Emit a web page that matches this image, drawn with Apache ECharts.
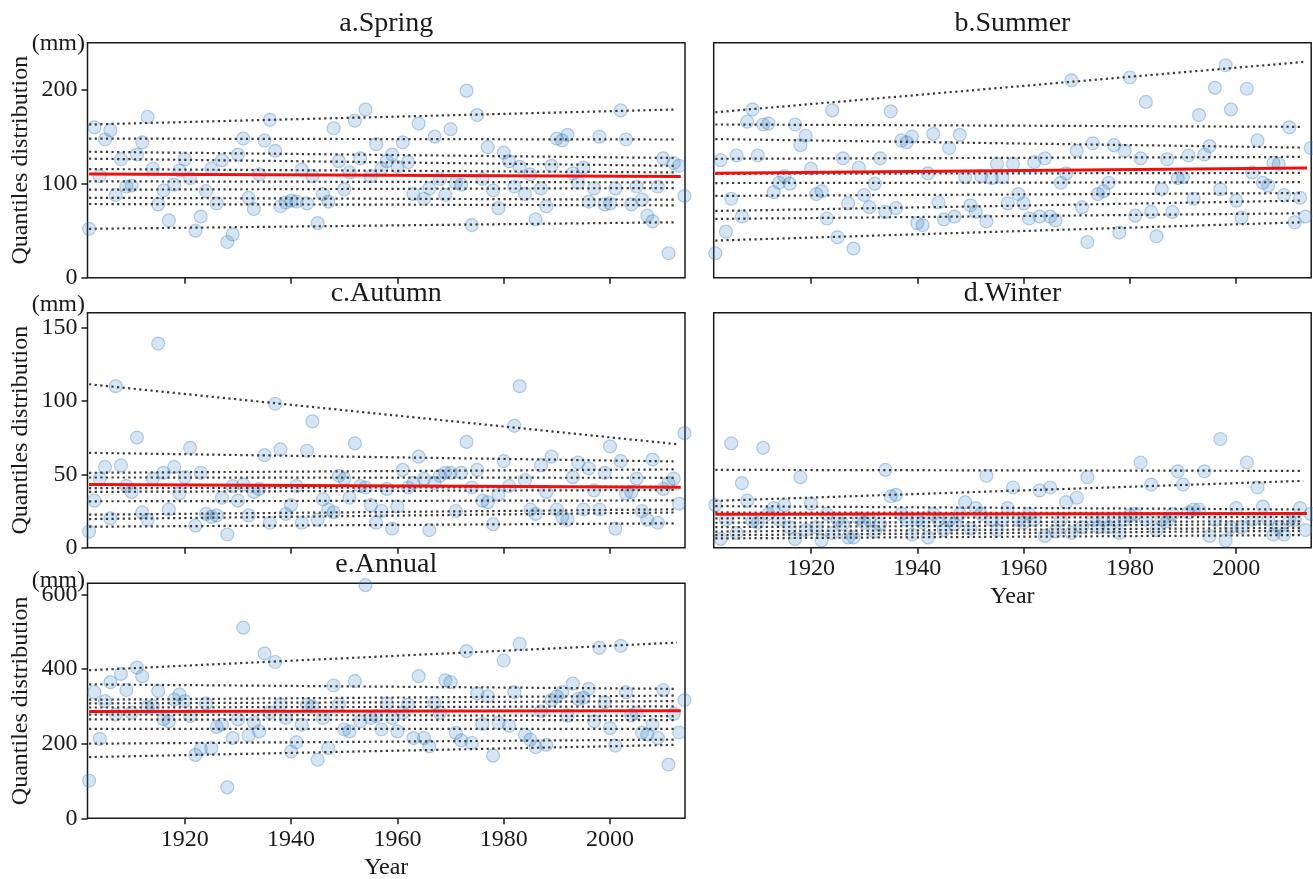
<!DOCTYPE html>
<html>
<head>
<meta charset="utf-8">
<title>Quantiles distribution</title>
<script src="https://cdn.jsdelivr.net/npm/echarts@6/dist/echarts.min.js"></script>
<style>
  html, body { margin: 0; padding: 0; background: #fff; }
  #chart { width: 1313px; height: 879px; }
</style>
</head>
<body>
<div id="chart"></div>
<script>
// Datos (mm), un valor por anio desde 1902
const firstYear = 1902;

const spring = [
  52, 160, 108, 147, 157, 88, 126, 97, 98, 131,
  144, 171, 116, 78, 93, 61, 99, 114, 126, 106,
  50, 65, 92, 116, 79, 125, 38, 46, 131, 148,
  85, 73, 110, 146, 168, 135, 76, 80, 82, 81,
  115, 79, 108, 58, 89, 81, 159, 124, 94, 112,
  167, 127, 179, 108, 142, 116, 124, 131, 118, 144,
  123, 89, 164, 84, 95, 150, 105, 88, 158, 101,
  99, 199, 56, 173, 105, 139, 93, 74, 133, 124,
  97, 118, 89, 110, 62, 95, 76, 119, 148, 146,
  152, 111, 101, 117, 81, 95, 150, 78, 79, 95,
  178, 147, 78, 97, 83, 66, 60, 97, 127, 26,
  122, 119, 87,
];

const summer = [
  26, 125, 49, 84, 130, 65, 166, 179, 130, 163,
  164, 91, 101, 108, 100, 163, 141, 151, 116, 89,
  92, 63, 178, 43, 127, 79, 31, 117, 88, 75,
  100, 127, 70, 177, 74, 146, 144, 150, 58, 56,
  111, 153, 80, 62, 138, 65, 152, 107, 77, 70,
  108, 60, 106, 121, 107, 79, 121, 89, 79, 63,
  123, 65, 127, 65, 61, 101, 111, 210, 135, 75,
  38, 143, 89, 92, 101, 141, 48, 135, 213, 66,
  127, 187, 70, 44, 94, 126, 70, 106, 107, 130,
  84, 173, 131, 140, 202, 94, 226, 179, 82, 64,
  201, 112, 146, 101, 98, 122, 121, 88, 160, 59,
  85, 65, 138,
];

const autumn = [
  11, 32, 47, 55, 20, 110, 56, 42, 38, 75,
  24, 19, 47, 139, 51, 26, 55, 37, 48, 68,
  15, 51, 23, 21, 22, 34, 9, 42, 32, 43,
  22, 38, 40, 63, 17, 98, 67, 23, 29, 42,
  17, 66, 86, 19, 33, 26, 24, 49, 47, 34,
  71, 42, 41, 29, 17, 25, 40, 13, 28, 53,
  41, 44, 62, 47, 12, 44, 49, 51, 51, 25,
  51, 72, 41, 53, 32, 31, 16, 36, 59, 42,
  83, 110, 46, 26, 23, 56, 38, 62, 26, 21,
  19, 48, 58, 26, 54, 39, 26, 51, 69, 13,
  59, 37, 38, 47, 25, 19, 60, 17, 40, 44,
  47, 30, 78,
];

const winter = [
  29, 6, 19, 71, 10, 44, 32, 18, 17, 68,
  23, 27, 19, 29, 14, 6, 48, 12, 30, 14,
  5, 23, 10, 19, 16, 7, 7, 20, 17, 19,
  11, 16, 53, 35, 36, 23, 19, 9, 19, 17,
  7, 23, 19, 12, 19, 16, 23, 31, 13, 27,
  23, 49, 19, 12, 19, 27, 41, 19, 17, 23,
  19, 39, 8, 41, 11, 19, 31, 10, 34, 14,
  48, 19, 14, 19, 14, 19, 10, 19, 22, 23,
  58, 19, 43, 12, 19, 18, 23, 52, 43, 24,
  26, 26, 52, 8, 19, 74, 5, 14, 27, 14,
  58, 19, 41, 28, 19, 9, 14, 9, 19, 19,
  27, 12, 23,
];

const annual = [
  101, 338, 213, 314, 365, 278, 387, 344, 283, 404,
  381, 298, 300, 341, 266, 260, 318, 332, 314, 274,
  170, 186, 308, 188, 245, 251, 83, 215, 265, 511,
  222, 257, 233, 442, 284, 419, 305, 269, 179, 204,
  251, 305, 300, 157, 269, 188, 356, 305, 238, 233,
  368, 260, 625, 269, 274, 238, 308, 269, 233, 283,
  305, 215, 381, 215, 193, 309, 283, 370, 365, 229,
  209, 448, 202, 335, 253, 327, 168, 256, 423, 248,
  338, 468, 224, 211, 191, 287, 197, 317, 327, 338,
  275, 361, 320, 323, 347, 260, 457, 311, 242, 195,
  462, 338, 276, 283, 230, 224, 251, 215, 344, 144,
  280, 230, 317,
];

// Rectas de regresion por cuantiles: valor al inicio y al final
const quantileYears = [1902, 2012.6];
const springQStart = [163, 148, 134, 126.6, 115.6, 102.5, 93.6, 85, 78.4, 52];
const springQEnd = [179, 147, 127.3, 119, 112, 101.4, 95.4, 83, 77, 59];
const summerQStart = [176, 163, 147.5, 126.5, 110.5, 100.7, 87, 71, 62.5, 39.5];
const summerQEnd = [229.5, 160.5, 138.4, 128.5, 111.5, 101.6, 90, 82, 68.5, 59];
const autumnQStart = [111.3, 64.6, 51, 47.8, 40.5, 38, 31.6, 22.5, 19.5, 14.3];
const autumnQEnd = [70.5, 58.7, 53.3, 47.6, 41.5, 39.3, 32.2, 26.1, 24, 16.6];
const winterQStart = [53, 31.9, 28.3, 24, 20, 17, 14, 11, 8.5, 6.3];
const winterQEnd = [52.3, 45.5, 26, 23.5, 21, 18, 16, 13.5, 11.5, 8.6];
const annualQStart = [397, 359, 318, 308, 297, 278, 265, 240, 200, 164];
const annualQEnd = [471, 347, 329, 314, 300, 274, 263, 240, 211, 197];

// Tendencia lineal (linea roja)
const trendYears = [1902, 2013.3];
const springTrend = [110.4, 107.6];
const summerTrend = [111, 116.7];
const autumnTrend = [43, 41.2];
const winterTrend = [22.7, 23.3];
const annualTrend = [286, 288];

// Ejes
const xRange = [1901.7, 2014.1];
const xTicks = [1920, 1940, 1960, 1980, 2000];
const springTicks = [0, 100, 200];
const autumnTicks = [0, 50, 100, 150];
const annualTicks = [0, 200, 400, 600];

const titles = ["a.Spring", "b.Summer", "c.Autumn", "d.Winter", "e.Annual"];
const yLabel = "Quantiles distribution";
const unitLabel = "(mm)";
const xLabel = "Year";

const years = spring.map((_, i) => firstYear + i);

(function () {
  "use strict";

  const FONT = "'Liberation Serif', 'Times New Roman', serif";
  const INK = "#1a1a1a";
  const boxW = 597.5;
  const boxH = 235;

  // Cada panel: posicion, datos y configuracion del eje Y
  const panels = [
    { left: 87.5, top: 42.7, unitDy: 1, values: spring, trend: springTrend, qs: springQStart, qe: springQEnd, yMax: 250, yTicks: springTicks, xLabels: false, leftCol: true },
    { left: 713.7, top: 42.7, values: summer, trend: summerTrend, qs: summerQStart, qe: summerQEnd, yMax: 250, yTicks: null, xLabels: false, leftCol: false },
    { left: 87.5, top: 312.7, unitDy: -8, values: autumn, trend: autumnTrend, qs: autumnQStart, qe: autumnQEnd, yMax: 160, yTicks: autumnTicks, xLabels: false, leftCol: true },
    { left: 713.7, top: 312.7, values: winter, trend: winterTrend, qs: winterQStart, qe: winterQEnd, yMax: 160, yTicks: null, xLabels: true, leftCol: false },
    { left: 87.5, top: 583.3, unitDy: -3, values: annual, trend: annualTrend, qs: annualQStart, qe: annualQEnd, yMax: 630, yTicks: annualTicks, xLabels: true, leftCol: true },
  ];

  const grid = [];
  const xAxis = [];
  const yAxis = [];
  const series = [];
  const graphic = [];

  const labelStyle = { fontFamily: FONT, fontSize: 24, color: INK };

  panels.forEach((p, i) => {
    grid.push({
      left: p.left,
      top: p.top,
      width: boxW,
      height: boxH,
      show: true,
      borderColor: INK,
      borderWidth: 1.5,
      backgroundColor: "transparent",
    });

    xAxis.push({
      type: "value",
      gridIndex: i,
      min: xRange[0],
      max: xRange[1],
      splitLine: { show: false },
      axisLine: { show: false },
      axisTick: {
        show: true,
        length: 6,
        customValues: xTicks,
        lineStyle: { color: INK, width: 1.5 },
      },
      axisLabel: {
        show: p.xLabels,
        customValues: xTicks,
        margin: 9,
        formatter: (v) => String(v),
        ...labelStyle,
      },
    });

    yAxis.push({
      type: "value",
      gridIndex: i,
      min: 0,
      max: p.yMax,
      splitLine: { show: false },
      axisLine: { show: false },
      axisTick: {
        show: !!p.yTicks,
        length: 6,
        customValues: p.yTicks || [],
        lineStyle: { color: INK, width: 1.5 },
      },
      axisLabel: {
        show: !!p.yTicks,
        customValues: p.yTicks || [],
        margin: 10,
        formatter: (v) => String(v),
        ...labelStyle,
      },
    });

    // Puntos anuales
    series.push({
      type: "scatter",
      xAxisIndex: i,
      yAxisIndex: i,
      data: years.map((yr, j) => [yr, p.values[j]]),
      symbolSize: 13,
      itemStyle: {
        color: "rgba(52,128,196,0.26)",
        borderColor: "rgba(40,110,180,0.38)",
        borderWidth: 1.2,
      },
      z: 2,
      silent: true,
    });

    // Rectas de cuantiles (punteadas)
    p.qs.forEach((v, k) => {
      series.push({
        type: "line",
        xAxisIndex: i,
        yAxisIndex: i,
        data: [
          [quantileYears[0], v],
          [quantileYears[1], p.qe[k]],
        ],
        symbol: "none",
        lineStyle: { color: "#3a3a3a", width: 2.2, type: [2.2, 3.4] },
        z: 3,
        silent: true,
      });
    });

    // Tendencia
    series.push({
      type: "line",
      xAxisIndex: i,
      yAxisIndex: i,
      data: [
        [trendYears[0], p.trend[0]],
        [trendYears[1], p.trend[1]],
      ],
      symbol: "none",
      lineStyle: { color: "#f01010", width: 3 },
      z: 4,
      silent: true,
    });

    // Titulo del panel
    graphic.push({
      type: "text",
      x: p.left + boxW / 2,
      y: p.top - 19,
      style: {
        text: titles[i],
        font: `28px ${FONT}`,
        fill: INK,
        textAlign: "center",
        textVerticalAlign: "middle",
      },
    });

    if (p.leftCol) {
      graphic.push({
        type: "text",
        x: p.left - 2.5,
        y: p.top + p.unitDy,
        style: {
          text: unitLabel,
          font: `24px ${FONT}`,
          fill: INK,
          textAlign: "right",
          textVerticalAlign: "middle",
        },
      });
      graphic.push({
        type: "text",
        x: 21,
        y: p.top + boxH / 2,
        rotation: Math.PI / 2,
        style: {
          text: yLabel,
          font: `24px ${FONT}`,
          fill: INK,
          textAlign: "center",
          textVerticalAlign: "middle",
        },
      });
    }

    if (p.xLabels) {
      graphic.push({
        type: "text",
        x: p.left + boxW / 2,
        y: p.top + boxH + 49,
        style: {
          text: xLabel,
          font: `24px ${FONT}`,
          fill: INK,
          textAlign: "center",
          textVerticalAlign: "middle",
        },
      });
    }
  });

  const chart = echarts.init(document.getElementById("chart"), null, {
    renderer: "canvas",
  });

  chart.setOption({
    backgroundColor: "#fff",
    animation: false,
    grid,
    xAxis,
    yAxis,
    series,
    graphic,
  });
})();
</script>
</body>
</html>
